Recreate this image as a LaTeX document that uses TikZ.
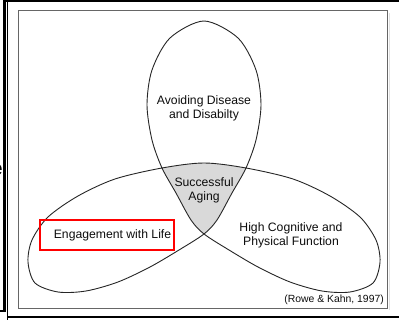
\documentclass[tikz,border=0pt]{standalone}
\usepackage{fontspec}
\setmainfont{Liberation Sans}
\begin{document}
\begin{tikzpicture}[x=1pt,y=-1pt,
  lbl/.style={font=\fontsize{12.2}{14.2}\selectfont, text=black!95, align=center, inner sep=0pt},
  outline/.style={draw=black!85, line width=0.9pt},
  hl/.style={draw=red, line width=2.6pt},
  frame/.style={draw=black, line width=2pt}]
\useasboundingbox (0,0) rectangle (399,320);
% outer slide frame
\fill[black] (3,0) rectangle (6,311.5);
\draw[black, line width=1.2pt] (0,311) -- (6,311);
\draw[black, line width=0.8pt] (7,0) -- (7,320);
\draw[frame] (6,1) -- (399,1);
\draw[frame] (7,316.7) -- (399,316.7);
\begin{scope}
  \clip (0,0) rectangle (2.8,320);
  \node[font=\bfseries\fontsize{21}{21}\selectfont, anchor=base east, inner sep=0pt] (frag) at (2.8,176) {e};
\end{scope}
% inner box
\draw[black!12, line width=1.2pt] (389.5,13) -- (389.5,310);
\draw[black!60, line width=1pt] (18,11) rectangle (387,309);
% trefoil curve
\path[save path=\lobes] plot[smooth cycle] coordinates {
 (115,179) (162,168) (204,163) (246,168) (293,179)
 (330,196) (360,217) (376,240) (380,262)
 (373,283) (350,292) (322,291) (290,282) (258,267) (229,250) (204,234)
 (191,220) (176,193) (162,168)
 (152,140) (147,105) (152,70) (170,38) (204,21) (238,38) (256,70) (261,105) (256,140) (246,168)
 (232,193) (217,220) (204,234)
 (179,250) (150,267) (118,282) (86,291) (58,292) (35,283) (28,262)
 (32,240) (48,217) (78,196)};
\fill[black!15, use path=\lobes];
\fill[white, even odd rule, use path=\lobes];
\draw[outline, use path=\lobes];
% labels
\node[lbl] (avoid) at (204,108.5) {Avoiding Disease\\and Disabilty};
\node[lbl] (succ) at (204,190) {Successful\\Aging};
\node[lbl] (high) at (291,235.5) {High Cognitive and\\Physical Function};
\node[lbl] (eng) at (112.5,235) {Engagement with Life};
\node[hl, minimum width=134pt, minimum height=30pt, inner sep=0pt] (box) at (107,235) {};
\node[font=\fontsize{10.4}{12}\selectfont, text=black!95, inner sep=0pt, anchor=east] (ref) at (384,300) {(Rowe \& Kahn, 1997)};
\end{tikzpicture}
\end{document}
